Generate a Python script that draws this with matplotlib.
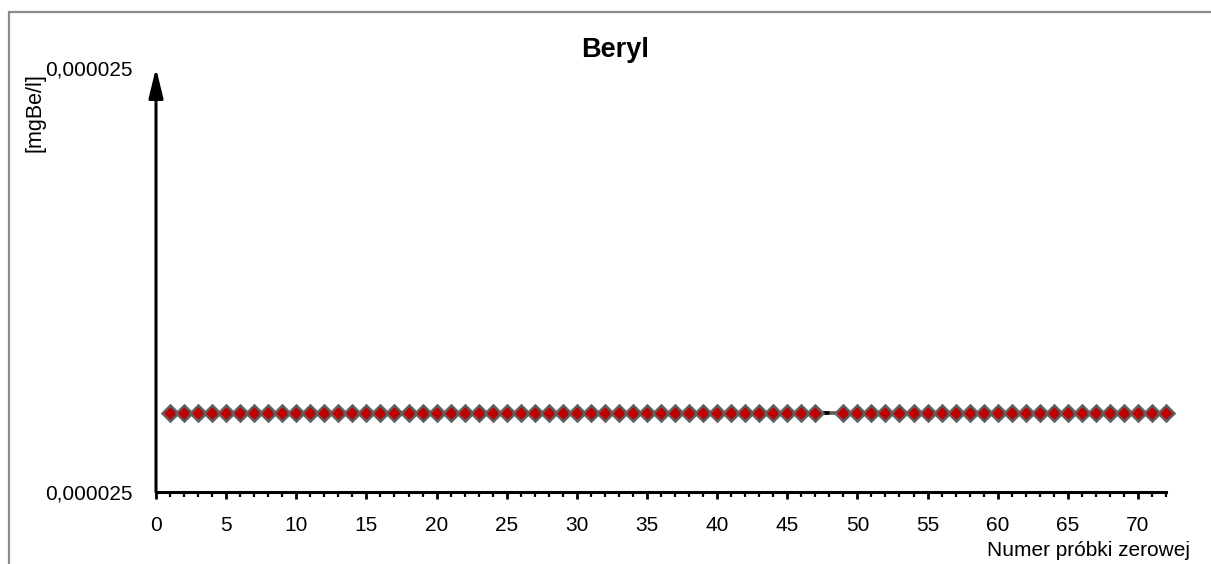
import matplotlib.pyplot as plt
from matplotlib.patches import Rectangle
from matplotlib.ticker import FixedLocator, MultipleLocator, FuncFormatter

plt.rcParams['font.family'] = ['Liberation Sans', 'DejaVu Sans']

# sample numbers (no. 48 missing in the source chart)
samples = list(range(1, 48)) + list(range(49, 73))
values = [0.00002475] * len(samples)   # mgBe/l, flat across all samples
y_lo, y_hi = 0.0000246, 0.0000254
x_ticks = list(range(0, 75, 5))

W, H = 1211, 564
fig = plt.figure(figsize=(W / 100, H / 100), dpi=100)

# outer chart border (only top and left show in the crop)
fig.patches.append(Rectangle((9 / W, -0.1), 1.2, (H - 12) / H + 0.1,
                             transform=fig.transFigure, fill=False,
                             edgecolor='#8c8c8c', lw=1.6))

ax = fig.add_axes([156 / W, 1 - 492 / H, (1166 - 156) / W, (492 - 68) / H])

ax.plot(samples, values, color='#5c5c5c', lw=2.6, zorder=2, clip_on=False)
ax.plot(samples, values, color='black', lw=2.6, dashes=(2.2, 2.2), zorder=3,
        clip_on=False)
ax.plot(samples, values, linestyle='none', marker='D', markersize=8.5,
        markerfacecolor='#c00000', markeredgecolor='#606060',
        markeredgewidth=1.8, zorder=4, clip_on=False)

ax.set_xlim(0, 72)
ax.set_ylim(y_lo, y_hi)

for s in ['top', 'right', 'left']:
    ax.spines[s].set_visible(False)
ax.spines['bottom'].set_linewidth(2.2)

ax.annotate('', xy=(0, 1), xytext=(0, 0), xycoords='axes fraction',
            arrowprops=dict(arrowstyle='-|>,head_length=0.9,head_width=0.22',
                            lw=2.2, color='black', mutation_scale=20,
                            shrinkA=0, shrinkB=0),
            annotation_clip=False)

ax.xaxis.set_major_locator(FixedLocator(x_ticks))
ax.xaxis.set_minor_locator(MultipleLocator(1))
ax.tick_params(axis='x', which='major', length=5, width=2, pad=12, labelsize=15)
ax.tick_params(axis='x', which='minor', length=3.5, width=1.6)

ax.yaxis.set_major_locator(FixedLocator([y_lo, y_hi]))
ax.yaxis.set_major_formatter(FuncFormatter(lambda v, p: f'{v:.6f}'.replace('.', ',')))
ax.tick_params(axis='y', which='major', length=0, pad=17, labelsize=15)

fig.text(615 / W, 1 - 50 / H, 'Beryl', ha='center', va='center',
         fontsize=19.5, fontweight='bold')
fig.text(35 / W, 1 - 113 / H, '[mgBe/l]', ha='center', va='center',
         rotation=90, fontsize=15.5)
fig.text(1190 / W, 1 - 551 / H, 'Numer próbki zerowej', ha='right',
         va='center', fontsize=15)

fig.savefig('out.png', dpi=100)
